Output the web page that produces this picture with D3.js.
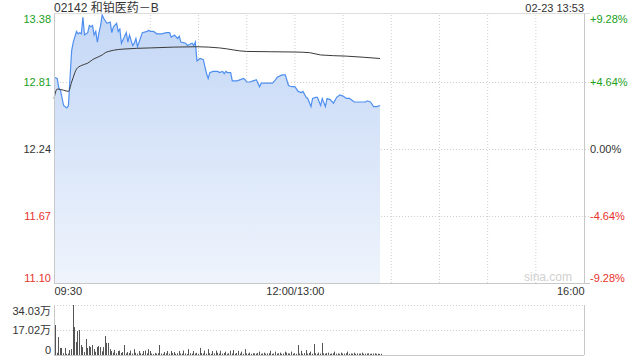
<!DOCTYPE html>
<html><head><meta charset="utf-8">
<script src="https://cdn.jsdelivr.net/npm/d3@7"></script>
<style>
html,body{margin:0;padding:0;background:#fff;}
svg{display:block;font-family:Arial,"Liberation Sans","Noto Sans CJK SC",sans-serif;}
</style></head><body>
<svg id="c" width="640" height="360"></svg>
<script>
const title = "02142 和铂医药－B";
const stamp = "02-23 13:53";
const priceTicks = [13.38, 12.81, 12.24, 11.67, 11.10];
const priceTickLabels = ["13.38", "12.81", "12.24", "11.67", "11.10"];
const pctTickLabels = ["+9.28%", "+4.64%", "0.00%", "-4.64%", "-9.28%"];
const timeTickMinutes = [0, 150, 330];
const timeTickLabels = ["09:30", "12:00/13:00", "16:00"];
const volTicks = [34.03, 17.02, 0];
const volTickLabels = ["34.03万", "17.02万", "0"];

// trading-minute index (0 = 09:30, 150 = 12:00/13:00) and price
const priceMinute = [0,2,3,4,6,7,8,9,10,11,12,14,15,16,17,18,19,21,22,23,24,25,26,27,28,29,30,31,33,35,36,37,39,40,41,42,44,45,46,47,49,50,51,52,54,55,58,59,60,62,64,67,70,72,73,75,77,78,79,82,83,86,87,88,89,91,93,95,96,97,99,100,102,103,105,106,107,108,110,111,114,116,118,119,120,122,124,126,128,129,133,136,138,139,142,144,146,148,150,152,154,155,157,158,160,161,163,164,166,167,169,170,172,174,176,178,180,182,184,187,191,194,195,197,199,201,203];
const price = [12.85,12.84,12.76,12.74,12.61,12.60,12.59,12.61,12.85,13.08,13.15,13.24,13.22,13.23,13.22,13.36,13.21,13.23,13.29,13.28,13.29,13.21,13.24,13.15,13.23,13.29,13.38,13.35,13.31,13.32,13.23,13.28,13.31,13.24,13.26,13.14,13.20,13.23,13.15,13.21,13.12,13.14,13.18,13.11,13.19,13.23,13.24,13.25,13.24,13.24,13.22,13.22,13.23,13.23,13.19,13.21,13.18,13.20,13.15,13.14,13.12,13.14,13.12,13.15,12.99,13.01,13.00,12.88,12.84,12.89,12.90,12.90,12.90,12.89,12.90,12.88,12.90,12.89,12.89,12.82,12.82,12.83,12.84,12.83,12.81,12.81,12.82,12.83,12.77,12.80,12.80,12.80,12.83,12.85,12.87,12.87,12.78,12.77,12.77,12.73,12.72,12.73,12.68,12.67,12.60,12.67,12.68,12.68,12.61,12.67,12.60,12.67,12.66,12.63,12.68,12.70,12.69,12.67,12.67,12.64,12.64,12.64,12.65,12.64,12.60,12.60,12.61];

const avgMinute = [0,2,6,9,11,12,14,17,21,24,27,30,32,34,37,43,60,89,103,120,150,159,166,182,203];
const avgPrice = [12.67,12.75,12.74,12.73,12.81,12.85,12.92,12.95,12.97,13.00,13.02,13.04,13.06,13.07,13.08,13.09,13.10,13.11,13.10,13.07,13.065,13.06,13.04,13.03,13.01];

// volume per minute, in 万 (minute 0..203)
const volume = [20.4,1.5,12.2,4.8,4.8,1.2,4.8,0.8,1.0,3.4,4.0,34.03,19.0,8.8,16.3,17.0,6.8,5.4,2.0,10.9,
4.8,6.1,5.4,6.8,4.0,2.2,5.4,6.1,5.4,2.5,5.4,12.9,8.2,8.2,4.0,2.7,1.6,3.4,1.2,2.7,
3.0,1.4,2.0,6.8,1.1,2.0,1.3,3.0,1.0,4.0,1.5,0.9,2.7,1.2,0.8,2.7,3.0,1.1,4.0,2.7,
1.0,0.7,1.4,0.9,1.2,6.8,1.0,0.8,2.0,1.1,2.7,0.9,2.7,1.3,2.0,0.8,1.2,2.7,1.0,0.9,
3.0,1.1,0.7,4.0,1.2,0.9,2.7,1.0,1.5,0.8,4.8,1.3,1.0,3.0,0.9,4.0,1.2,0.8,2.7,1.1,
3.0,1.5,0.9,2.9,1.0,1.3,2.3,0.8,1.2,2.9,1.0,3.4,0.9,1.4,2.9,1.0,2.3,0.8,4.0,1.1,
0.9,1.6,0.8,1.2,1.1,0.9,1.4,2.3,0.8,1.0,1.6,0.9,1.1,1.2,2.9,0.8,1.0,2.3,0.9,1.2,
1.6,0.8,1.0,2.3,1.6,1.1,1.0,2.3,0.9,1.2,0.8,6.8,1.0,2.9,0.9,1.3,3.4,1.0,1.4,2.3,
0.9,7.5,1.2,0.8,1.6,1.0,8.2,1.1,0.9,1.3,1.6,0.8,1.0,1.2,2.3,0.9,1.1,0.8,1.6,1.0,
0.9,1.2,2.3,0.8,1.0,0.9,1.6,0.8,1.1,0.9,1.0,1.6,0.8,0.9,1.0,1.1,0.8,0.9,1.0,1.1,
0.8,0.9,0.7,0.8];

const svg = d3.select("#c");
const L = 54, R = 584, T = 15, B = 283, VT = 305, VB = 355;
const x = d3.scaleLinear().domain([0, 330]).range([L, R]);
const y = d3.scaleLinear().domain([11.10, 13.38]).range([B, T]);
const yv = d3.scaleLinear().domain([0, 34.03]).range([VB, VT]);

const defs = svg.append("defs");
const grad = defs.append("linearGradient").attr("id","g").attr("x1",0).attr("x2",0).attr("y1",0).attr("y2",1);
grad.append("stop").attr("offset","0%").attr("stop-color","#c3d7f6");
grad.append("stop").attr("offset","100%").attr("stop-color","#eff4fc");

// titles
svg.append("text").attr("x", L).attr("y", 12).attr("font-size", 12).attr("fill", "#333").text(title);
svg.append("text").attr("x", R).attr("y", 12).attr("text-anchor","end").attr("font-size", 11).attr("fill", "#333").text(stamp);

// grid
const gridCol = "#cfcfcf";
const vMins = d3.range(30, 330, 30);
svg.append("g").selectAll("line").data(vMins).join("line")
  .attr("x1", d => x(d)).attr("x2", d => x(d)).attr("y1", T).attr("y2", B)
  .attr("stroke", gridCol).attr("stroke-dasharray","1,2");
svg.append("g").selectAll("line").data(priceTicks.slice(1, 4)).join("line")
  .attr("x1", L).attr("x2", R + 6).attr("y1", d => y(d)+0.5).attr("y2", d => y(d)+0.5)
  .attr("stroke", gridCol).attr("stroke-dasharray","1,2");

// area + lines
const area = d3.area().x((d,i) => x(priceMinute[i])).y0(B).y1(d => y(d));
svg.append("path").datum(price).attr("d", area).attr("fill", "url(#g)");
const line = d3.line().x((d,i) => x(priceMinute[i])).y(d => y(d));
svg.append("path").datum(price).attr("d", line).attr("fill","none").attr("stroke","#4f8ff0").attr("stroke-width",1.2);
const aline = d3.line().x((d,i) => x(avgMinute[i])).y(d => y(d)).curve(d3.curveMonotoneX);
svg.append("path").datum(avgPrice).attr("d", aline).attr("fill","none").attr("stroke","#3a3a3a").attr("stroke-width",1);

// frame
const fr = "#c8c8c8";
svg.append("line").attr("x1", L).attr("x2", R + 6).attr("y1", T - 1.5).attr("y2", T - 1.5).attr("stroke", "#ddd");
svg.append("line").attr("x1", L + 0.5).attr("x2", L + 0.5).attr("y1", T - 1).attr("y2", B).attr("stroke", fr);
svg.append("line").attr("x1", R + 0.5).attr("x2", R + 0.5).attr("y1", T - 1).attr("y2", B).attr("stroke", fr);
svg.append("line").attr("x1", L).attr("x2", R + 6).attr("y1", B + 0.5).attr("y2", B + 0.5).attr("stroke", fr);

// watermark
svg.append("text").attr("x", 572).attr("y", 281).attr("text-anchor","end").attr("font-size", 12).attr("fill", "#d0d0d0").text("sina.com");

// price axes
const colFor = i => i < 2 ? "#1aa01a" : (i === 2 ? "#333" : "#e8322b");
const yShift = i => i === 0 ? 4 : (i === 4 ? -5 : 0);
const leftAx = svg.append("g").attr("transform", `translate(${L - 3},0)`)
  .call(d3.axisLeft(y).tickValues(priceTicks).tickSize(0).tickPadding(0).tickFormat((d,i) => priceTickLabels[i]));
leftAx.select(".domain").remove();
leftAx.selectAll("text").attr("font-size", 11).attr("font-family","Arial,'Liberation Sans',sans-serif")
  .attr("fill", (d,i) => colFor(i)).attr("dy", (d,i) => (0.32 + yShift(i)/11) + "em");
const rightAx = svg.append("g").attr("transform", `translate(${R + 6},0)`)
  .call(d3.axisRight(y).tickValues(priceTicks).tickSize(0).tickPadding(0).tickFormat((d,i) => pctTickLabels[i]));
rightAx.select(".domain").remove();
rightAx.selectAll("text").attr("font-size", 11).attr("font-family","Arial,'Liberation Sans',sans-serif")
  .attr("fill", (d,i) => colFor(i)).attr("dy", (d,i) => (0.32 + yShift(i)/11) + "em");

// time axis
const tAx = svg.append("g").attr("transform", `translate(0,${B + 4})`)
  .call(d3.axisBottom(x).tickValues(timeTickMinutes).tickSize(0).tickPadding(0).tickFormat((d,i) => timeTickLabels[i]));
tAx.select(".domain").remove();
tAx.selectAll("text").attr("font-size", 11).attr("fill","#333").attr("font-family","Arial,'Liberation Sans',sans-serif")
  .attr("text-anchor", (d,i) => i === 0 ? "start" : (i === 2 ? "end" : "middle"));

// volume panel
svg.append("g").selectAll("line").data(volTicks.slice(0,2)).join("line")
  .attr("x1", L).attr("x2", R).attr("y1", d => yv(d)+0.5).attr("y2", d => yv(d)+0.5)
  .attr("stroke", gridCol).attr("stroke-dasharray","1,2");
svg.append("line").attr("x1", L + 0.5).attr("x2", L + 0.5).attr("y1", VT).attr("y2", VB).attr("stroke", fr);
svg.append("line").attr("x1", R + 0.5).attr("x2", R + 0.5).attr("y1", VT).attr("y2", VB).attr("stroke", fr);
svg.append("line").attr("x1", L).attr("x2", R).attr("y1", VB + 0.5).attr("y2", VB + 0.5).attr("stroke", fr);
svg.append("g").selectAll("line").data(volume).join("line")
  .attr("x1", (d,i) => Math.round(x(i)) + 1.5).attr("x2", (d,i) => Math.round(x(i)) + 1.5)
  .attr("y1", VB).attr("y2", d => yv(d))
  .attr("stroke", "#555").attr("stroke-width", 1);
const vShift = i => i === 0 ? 6 : (i === 2 ? -5 : 0);
const vAx = svg.append("g").attr("transform", `translate(${L - 3},0)`)
  .call(d3.axisLeft(yv).tickValues(volTicks).tickSize(0).tickPadding(0).tickFormat((d,i) => volTickLabels[i]));
vAx.select(".domain").remove();
vAx.selectAll("text").attr("font-size", 11).attr("fill","#333").attr("font-family","Arial,'Liberation Sans','Noto Sans CJK SC',sans-serif")
  .attr("dy", (d,i) => (0.32 + vShift(i)/11) + "em");
</script></body></html>
